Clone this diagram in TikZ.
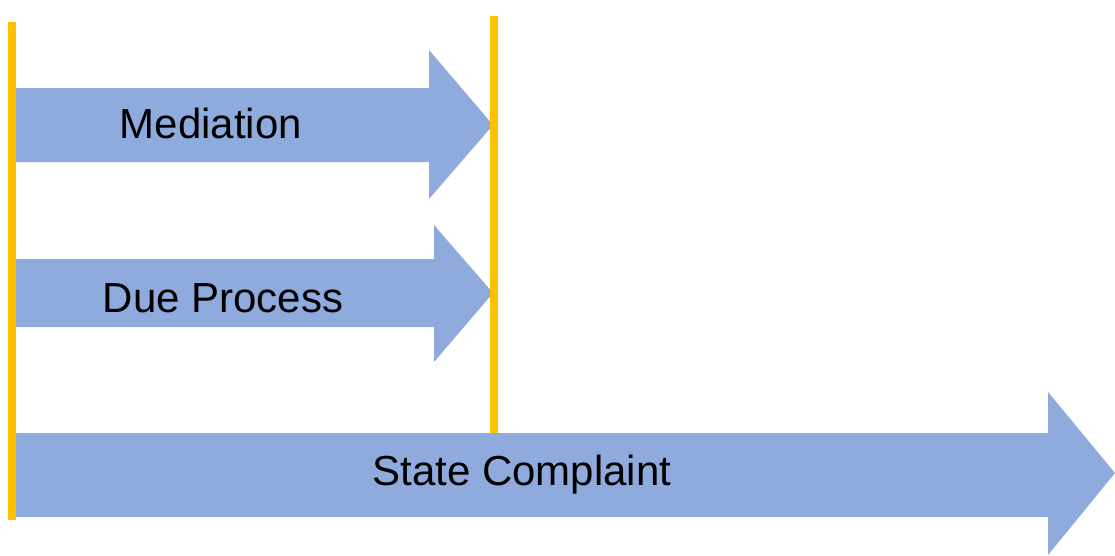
\documentclass[tikz,border=0pt]{standalone}
\usepackage{fontspec}
\setmainfont{Liberation Sans}
\definecolor{arrowblue}{HTML}{8FAADC}
\definecolor{lineyellow}{HTML}{FFC000}
\begin{document}
\begin{tikzpicture}[x=1pt,y=-1pt,
  bigarrow/.style={fill=arrowblue,draw=none},
  marker/.style={draw=lineyellow,line width=8pt},
  lbl/.style={font=\fontsize{42}{48}\selectfont,inner sep=0pt,anchor=base}]
\useasboundingbox (0,0) rectangle (1115,555);
% arrows
\fill[bigarrow] (16,88) -- (429,88) -- (429,50) -- (493,125) -- (429,199) -- (429,162) -- (16,162) -- cycle;
\fill[bigarrow] (16,259) -- (434,259) -- (434,225) -- (493,293) -- (434,362) -- (434,327) -- (16,327) -- cycle;
\fill[bigarrow] (16,433) -- (1048,433) -- (1048,392) -- (1115,473) -- (1048,555) -- (1048,517) -- (16,517) -- cycle;
% yellow markers
\coordinate (lt) at (12,22);
\coordinate (lb) at (12,520);
\coordinate (mt) at (494,16);
\coordinate (mb) at (494,433);
\draw[marker] (lt) -- (lb);
\draw[marker] (mt) -- (mb);
% labels
\node[lbl] (med) at (211,138) {Mediation};
\node[lbl] (due) at (223,312) {Due Process};
\node[lbl] (state) at (522,485) {State Complaint};
\end{tikzpicture}
\end{document}
